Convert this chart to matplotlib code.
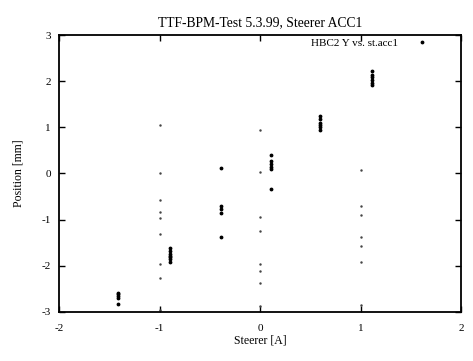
"""
TTF BPM test: HBC2 Y position vs steerer ACC1 current
"""
import numpy as np
import matplotlib
matplotlib.use('Agg')
import matplotlib.pyplot as plt

# steerer current [A] and measured position [mm], one entry per reading
steerer = [-1.41] * 5 + [-0.9] * 7 + [-0.39] * 5 + [0.11] * 6 + [0.6] * 6 + [1.11] * 6
position = [-2.58, -2.62, -2.66, -2.70, -2.83,
            -1.62, -1.68, -1.74, -1.78, -1.82, -1.86, -1.91,
            0.11, -0.70, -0.76, -0.86, -1.37,
            0.39, 0.26, 0.20, 0.15, 0.10, -0.33,
            1.25, 1.18, 1.10, 1.05, 1.00, 0.94,
            2.22, 2.14, 2.08, 2.02, 1.97, 1.92]

# faint stray dots in the scan along x = -1, 0, 1
stray_x = [-1] * 9 + [0] * 8 + [1] * 7
stray_y = [1.05, 0.02, -0.57, -0.83, -0.96, -1.31, -1.97, -2.27, -2.95,
           0.94, 0.04, -0.94, -1.24, -1.96, -2.11, -2.38, -2.88,
           0.07, -0.70, -0.91, -1.38, -1.57, -1.92, -2.86]

x_ticks = [-2, -1, 0, 1, 2]
y_ticks = [-3, -2, -1, 0, 1, 2, 3]

plt.rcParams['font.family'] = ['Liberation Serif', 'DejaVu Serif']
plt.rcParams['axes.unicode_minus'] = False

fig = plt.figure(figsize=(4.73, 3.61), dpi=100)
ax = fig.add_axes([0.125, 0.136, 0.85, 0.767])

ax.plot(stray_x, stray_y, linestyle='none', marker='.', markersize=1.5,
        color='#444444')
ax.plot(steerer, position, linestyle='none', marker='.', markersize=3.5,
        color='black', label='HBC2 Y vs. st.acc1')

ax.set_xlim(-2, 2)
ax.set_ylim(-3, 3)
ax.set_xticks(x_ticks)
ax.set_yticks(y_ticks)
ax.tick_params(direction='in', top=True, right=True, length=4, width=1,
               labelsize=8)
ax.tick_params(axis='x', pad=9)
ax.tick_params(axis='y', pad=6)
for sp in ax.spines.values():
    sp.set_linewidth(1.3)

ax.set_title('TTF-BPM-Test 5.3.99, Steerer ACC1', fontsize=9.8, pad=6)
ax.set_xlabel('Steerer [A]', fontsize=8.5, labelpad=1)
ax.set_ylabel('Position [mm]', fontsize=8.5, labelpad=12)

ax.legend(loc='upper right', bbox_to_anchor=(0.925, 1.0), frameon=False,
          markerfirst=False, fontsize=8, handlelength=1.0,
          borderaxespad=0.0, borderpad=0.3, handletextpad=1.7)

fig.savefig('out.png', dpi=100)
